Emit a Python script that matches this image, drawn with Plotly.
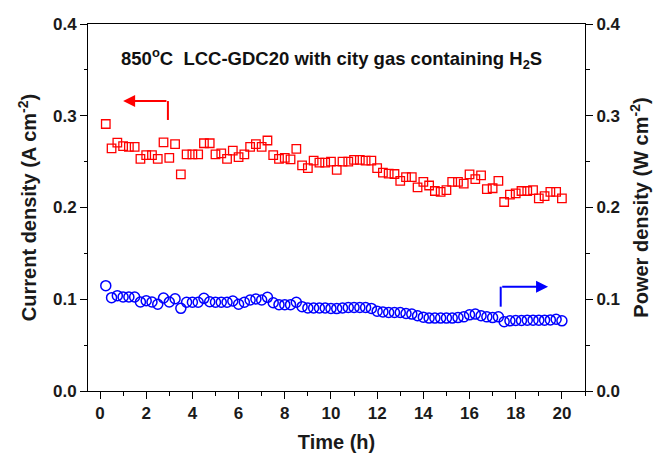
import plotly.graph_objects as go

# ---- data ----
time_h = [0.25 * i for i in range(1, 81)]

current_density = [
    0.291, 0.2645, 0.2706, 0.267, 0.266, 0.266, 0.253, 0.257, 0.257, 0.253,
    0.271, 0.254, 0.269, 0.236, 0.258, 0.258, 0.258, 0.270, 0.270, 0.258,
    0.259, 0.253, 0.262, 0.255, 0.258, 0.266, 0.269, 0.266, 0.273, 0.257,
    0.253, 0.254, 0.2525, 0.264, 0.246, 0.243, 0.251, 0.249, 0.249, 0.250,
    0.241, 0.250, 0.250, 0.252, 0.252, 0.251, 0.251, 0.243, 0.238, 0.237,
    0.2365, 0.229, 0.233, 0.233, 0.222, 0.228, 0.224, 0.218, 0.217, 0.219,
    0.228, 0.228, 0.226, 0.236, 0.231, 0.235, 0.220, 0.221, 0.229, 0.206,
    0.214, 0.2155, 0.218, 0.218, 0.219, 0.210, 0.2125, 0.217, 0.217, 0.210,
]

power_density = [
    0.1148, 0.1017, 0.1039, 0.1025, 0.1025, 0.1025, 0.097, 0.0984, 0.097, 0.0945,
    0.1014, 0.097, 0.1006, 0.0901, 0.0967, 0.0967, 0.0967, 0.101, 0.0973, 0.0967,
    0.0967, 0.0967, 0.0981, 0.0945, 0.0967, 0.0992, 0.1003, 0.0992, 0.1021, 0.0962,
    0.0941, 0.0941, 0.0941, 0.0967, 0.0919, 0.0905, 0.0905, 0.0905, 0.0905, 0.0900,
    0.0898, 0.0905, 0.0910, 0.0910, 0.0910, 0.0910, 0.0900, 0.0870, 0.0862, 0.0855,
    0.0855, 0.0855, 0.0845, 0.0838, 0.0820, 0.0805, 0.0795, 0.0795, 0.0795, 0.0795,
    0.0795, 0.0800, 0.0808, 0.0830, 0.0838, 0.0820, 0.0808, 0.0800, 0.0808, 0.0755,
    0.0765, 0.0768, 0.0768, 0.0772, 0.0772, 0.0772, 0.0772, 0.0775, 0.0782, 0.0765,
]

x_ticks = [0, 2, 4, 6, 8, 10, 12, 14, 16, 18, 20]
y_ticks = [0.0, 0.1, 0.2, 0.3, 0.4]
y_tick_labels = ["0.0", "0.1", "0.2", "0.3", "0.4"]

# arrow guide positions (data coordinates)
red_arrow = dict(x_start=2.94, x_end=1.0, y_top=0.316, y_bottom=0.2954)
blue_arrow = dict(x_start=17.35, x_end=19.4, y_top=0.1137, y_bottom=0.0919)

FONT = "Arial, Liberation Sans, sans-serif"
RED = "#FF0000"
BLUE = "#0000FF"
TXT = "#1a1a1a"

fig = go.Figure()
fig.add_trace(go.Scatter(
    x=time_h, y=current_density, mode="markers",
    marker=dict(symbol="square-open", size=8.5, color=RED, line=dict(width=1.3, color=RED)),
    yaxis="y", showlegend=False))
fig.add_trace(go.Scatter(
    x=time_h, y=power_density, mode="markers",
    marker=dict(symbol="circle-open", size=10, color=BLUE, line=dict(width=1.5, color=BLUE)),
    yaxis="y2", showlegend=False))

axis_common = dict(
    showline=True, linecolor="black", linewidth=1, showgrid=False, zeroline=False,
    ticks="outside", ticklen=7, tickwidth=1, tickcolor="black",
    tickfont=dict(family=FONT, size=17, color=TXT, weight="bold"),
)
minor_common = dict(ticks="outside", ticklen=3.5, tickwidth=1, tickcolor="black")
title_font = dict(family=FONT, size=20, color=TXT, weight="bold")

fig.update_layout(
    width=654, height=456,
    margin=dict(l=88, r=69, t=24, b=65, autoexpand=False),
    paper_bgcolor="white", plot_bgcolor="white",
    xaxis=dict(
        range=[-0.52, 21.0], tickvals=x_ticks, mirror=True, automargin=False,
        minor=dict(dtick=1, tick0=0, **minor_common),
        title=dict(text="Time (h)", font=title_font, standoff=12),
        **axis_common),
    yaxis=dict(
        range=[0, 0.4], tickvals=y_ticks, ticktext=y_tick_labels, automargin=False,
        minor=dict(dtick=0.05, tick0=0, **minor_common),
        title=dict(text="Current density (A cm<sup>-2</sup>)", font=title_font, standoff=10),
        **axis_common),
    yaxis2=dict(
        range=[0, 0.4], tickvals=y_ticks, ticktext=y_tick_labels, overlaying="y", side="right",
        automargin=False,
        minor=dict(dtick=0.05, tick0=0, **minor_common),
        title=dict(text="Power density (W cm<sup>-2</sup>)", font=title_font, standoff=14),
        **axis_common),
)

# title text inside plot
fig.add_annotation(
    x=0.49, y=0.905, xref="paper", yref="paper", xanchor="center", yanchor="middle",
    text="850<sup>o</sup>C  LCC-GDC20 with city gas containing H<sub>2</sub>S",
    showarrow=False, font=dict(family=FONT, size=18.5, color="#111", weight="bold"))

# red arrow (pointing left to left axis)
fig.add_shape(type="line", x0=red_arrow["x_start"], x1=red_arrow["x_start"],
              y0=red_arrow["y_top"], y1=red_arrow["y_bottom"], xref="x", yref="y",
              line=dict(color=RED, width=2))
fig.add_annotation(x=red_arrow["x_end"], y=red_arrow["y_top"], ax=red_arrow["x_start"], ay=red_arrow["y_top"],
                   xref="x", yref="y", axref="x", ayref="y", text="", showarrow=True,
                   arrowhead=2, arrowsize=1.2, arrowwidth=2, arrowcolor=RED)

# blue arrow (pointing right to right axis)
fig.add_shape(type="line", x0=blue_arrow["x_start"], x1=blue_arrow["x_start"],
              y0=blue_arrow["y_bottom"], y1=blue_arrow["y_top"], xref="x", yref="y",
              line=dict(color=BLUE, width=2))
fig.add_annotation(x=blue_arrow["x_end"], y=blue_arrow["y_top"], ax=blue_arrow["x_start"], ay=blue_arrow["y_top"],
                   xref="x", yref="y", axref="x", ayref="y", text="", showarrow=True,
                   arrowhead=2, arrowsize=1.2, arrowwidth=2, arrowcolor=BLUE)

fig.write_html("out.html")
